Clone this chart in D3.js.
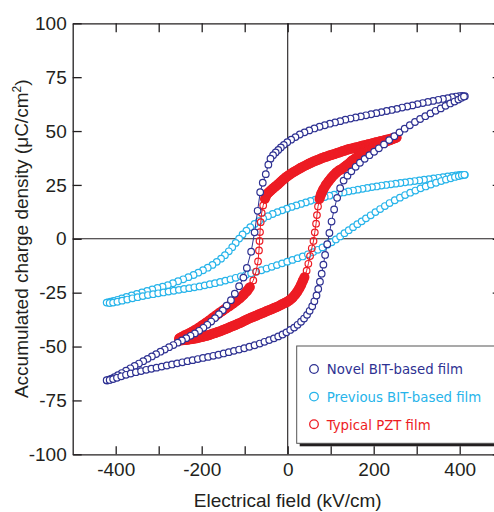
<!DOCTYPE html>
<html>
<head>
<meta charset="utf-8">
<script src="https://cdn.jsdelivr.net/npm/d3@7"></script>
<style>
body { margin: 0; background: #fff; }
svg { display: block; }
</style>
</head>
<body>
<script>
// P-E hysteresis loops, [E (kV/cm), P (uC/cm2)]
var novelUpper = [[412,66.2],[406,66.3],[399,66.2],[391,66.0],[382,65.7],[372,65.3],[361,64.9],[350,64.5],[338,64.0],[326,63.5],[314,63.0],[302,62.5],[290,61.9],[278,61.4],[266,60.9],[254,60.3],[242,59.8],[230,59.3],[218,58.8],[206,58.3],[194,57.8],[182,57.3],[170,56.8],[158,56.3],[146,55.8],[134,55.3],[122,54.6],[110,54.0],[98,53.4],[86,52.7],[74,52.0],[62,51.2],[50,50.3],[39,49.4],[28,48.4],[18,47.2],[8,46.0],[-1,44.8],[-9,43.6],[-16,42.4],[-22,41.2],[-28,40.1],[-34,38.8],[-40,37.2],[-45,34.4],[-51,30.0],[-58,26.0],[-64,21.6],[-70,13.0],[-77,3.0],[-85,-6.0],[-95,-13.5],[-103,-18.0],[-113,-22.0],[-123,-25.5],[-132,-28.5],[-142,-31.0],[-151,-33.2],[-160,-35.0],[-169,-36.8],[-178,-38.4],[-187,-39.9],[-196,-41.3],[-206,-42.7],[-216,-43.9],[-226,-45.0],[-236,-46.1],[-246,-47.2],[-256,-48.2],[-266,-49.3],[-276,-50.3],[-286,-51.4],[-296,-52.4],[-306,-53.5],[-316,-54.6],[-326,-55.7],[-336,-56.8],[-346,-57.9],[-356,-59.0],[-366,-60.1],[-376,-61.2],[-386,-62.3],[-395,-63.3],[-403,-64.2],[-410,-64.9],[-416,-65.4],[-420,-65.8]];
var novelLower = [[-421,-65.6],[-414,-65.5],[-406,-65.1],[-397,-64.5],[-387,-63.8],[-376,-63.1],[-365,-62.5],[-353,-61.9],[-341,-61.4],[-329,-60.8],[-317,-60.3],[-305,-59.8],[-293,-59.3],[-281,-58.8],[-269,-58.3],[-257,-57.8],[-245,-57.3],[-233,-56.8],[-221,-56.3],[-209,-55.8],[-197,-55.3],[-185,-54.8],[-173,-54.3],[-161,-53.8],[-149,-53.2],[-137,-52.6],[-125,-52.0],[-113,-51.4],[-101,-50.8],[-89,-50.1],[-77,-49.4],[-65,-48.6],[-54,-47.8],[-43,-47.0],[-32,-46.2],[-22,-45.3],[-12,-44.4],[-3,-43.4],[6,-42.3],[15,-41.2],[23,-39.9],[31,-38.5],[38,-37.0],[45,-35.3],[51,-33.4],[57,-31.3],[62,-29.0],[67,-26.3],[71,-23.3],[75,-19.9],[79,-16.2],[83,-12.0],[87,-7.5],[92,-2.5],[97,2.7],[102,8.0],[108,13.6],[115,19.0],[122,23.5],[130,27.0],[139,29.3],[148,31.3],[158,33.4],[168,35.3],[179,37.1],[190,38.8],[201,40.4],[212,42.0],[224,43.8],[236,45.8],[248,47.6],[260,49.4],[272,51.1],[284,52.7],[296,54.2],[308,55.6],[320,56.9],[332,58.2],[344,59.4],[356,60.5],[367,61.7],[378,62.8],[388,63.7],[397,64.6],[404,65.4],[410,66.0]];

var previousUpper = [[412,29.7],[406,29.7],[399,29.6],[391,29.4],[382,29.2],[372,28.9],[361,28.6],[350,28.3],[339,28.0],[328,27.7],[317,27.4],[306,27.1],[295,26.8],[284,26.5],[273,26.2],[262,25.9],[251,25.6],[240,25.3],[229,25.0],[218,24.7],[207,24.3],[196,24.0],[185,23.6],[174,23.2],[163,22.8],[152,22.4],[141,22.0],[130,21.5],[119,21.0],[108,20.5],[97,20.0],[86,19.4],[75,18.8],[64,18.2],[53,17.6],[42,16.9],[31,16.2],[20,15.5],[9,14.8],[-2,14.0],[-13,13.2],[-24,12.4],[-35,11.5],[-46,10.5],[-57,9.4],[-67,8.2],[-77,6.9],[-87,5.4],[-96,3.8],[-105,2.0],[-113,0.1],[-121,-1.9],[-129,-3.9],[-137,-5.8],[-146,-7.6],[-155,-9.2],[-165,-10.7],[-175,-12.1],[-186,-13.4],[-197,-14.6],[-208,-15.7],[-219,-16.8],[-231,-17.8],[-243,-18.8],[-255,-19.7],[-267,-20.6],[-279,-21.5],[-291,-22.2],[-303,-22.8],[-315,-23.5],[-327,-24.2],[-339,-24.9],[-351,-25.6],[-363,-26.3],[-375,-27.0],[-386,-27.7],[-396,-28.3],[-405,-28.8],[-412,-29.2],[-418,-29.5]];
var previousLower = [[-421,-29.6],[-414,-29.8],[-406,-29.6],[-396,-29.2],[-385,-28.7],[-373,-28.2],[-361,-27.6],[-349,-27.1],[-337,-26.6],[-325,-26.1],[-313,-25.7],[-301,-25.3],[-289,-24.9],[-277,-24.5],[-265,-24.1],[-253,-23.7],[-241,-23.3],[-229,-22.9],[-217,-22.5],[-205,-22.1],[-193,-21.6],[-181,-21.1],[-169,-20.6],[-157,-20.0],[-145,-19.4],[-133,-18.8],[-121,-18.1],[-109,-17.4],[-97,-16.7],[-85,-16.0],[-73,-15.3],[-61,-14.6],[-49,-13.8],[-37,-13.0],[-25,-12.2],[-13,-11.4],[-1,-10.6],[11,-9.8],[23,-9.0],[35,-8.2],[47,-7.2],[59,-6.2],[70,-5.1],[81,-4.0],[92,-2.8],[102,-1.6],[112,-0.3],[122,1.1],[132,2.6],[142,4.0],[152,5.4],[162,6.8],[172,8.1],[182,9.5],[193,10.9],[204,12.4],[215,13.8],[226,15.2],[237,16.6],[249,17.9],[261,19.1],[273,20.3],[285,21.4],[297,22.4],[309,23.4],[321,24.3],[333,25.2],[345,26.0],[357,26.8],[368,27.5],[379,28.1],[389,28.7],[398,29.1],[405,29.5],[411,29.7]];

var pztUpper = [[253,47.0],[247,46.8],[241,46.5],[235,46.2],[229,45.9],[223,45.6],[217,45.3],[211,45.0],[205,44.7],[199,44.4],[193,44.1],[187,43.8],[181,43.5],[175,43.2],[169,42.9],[163,42.6],[157,42.3],[151,42.0],[145,41.7],[139,41.4],[133,41.0],[127,40.6],[121,40.2],[115,39.8],[109,39.4],[103,39.0],[97,38.6],[91,38.2],[85,37.8],[79,37.4],[73,36.9],[67,36.4],[61,35.9],[55,35.4],[49,34.8],[43,34.2],[37,33.6],[31,33.0],[25,32.3],[19,31.6],[13,30.9],[7,30.1],[1,29.3],[-5,28.4],[-11,27.4],[-17,26.3],[-23,25.2],[-29,24.2],[-35,23.2],[-40,22.3],[-45,21.4],[-49,20.6],[-53,18.5],[-57,15.5],[-60.5,12.0],[-62.8,7.7],[-64.4,3.1],[-65.5,-1.0],[-66.8,-5.4],[-69,-10.5],[-73.5,-15.2],[-80,-19.3],[-88,-22.4],[-95,-24.3],[-103,-26.0],[-111,-27.5],[-119,-28.8],[-127,-30.0],[-135,-31.1],[-143,-32.2],[-151,-33.3],[-159,-34.4],[-167,-35.6],[-175,-36.8],[-183,-38.0],[-191,-39.1],[-199,-40.2],[-207,-41.3],[-215,-42.3],[-223,-43.2],[-231,-44.0],[-239,-44.8],[-246,-45.5],[-252,-46.2]];
var pztLower = [[-253,-47.2],[-247,-47.1],[-241,-47.0],[-235,-46.9],[-229,-46.7],[-223,-46.5],[-217,-46.3],[-211,-46.1],[-205,-45.8],[-199,-45.5],[-193,-45.2],[-187,-44.9],[-181,-44.5],[-175,-44.1],[-169,-43.7],[-163,-43.3],[-157,-42.9],[-151,-42.4],[-145,-41.9],[-139,-41.4],[-133,-40.9],[-127,-40.4],[-121,-39.9],[-115,-39.4],[-109,-38.9],[-103,-38.3],[-97,-37.7],[-91,-37.1],[-85,-36.6],[-79,-36.1],[-73,-35.6],[-67,-35.1],[-61,-34.6],[-55,-34.1],[-49,-33.6],[-43,-33.1],[-37,-32.6],[-31,-32.1],[-25,-31.6],[-19,-31.0],[-13,-30.4],[-7,-29.8],[-1,-29.2],[5,-28.4],[11,-27.4],[17,-26.0],[22,-24.6],[27,-23.0],[31,-21.4],[35,-19.6],[39,-17.8],[44,-14.8],[48,-11.6],[52,-8.0],[56,-4.4],[60,-1.0],[63,3.0],[66,7.0],[68,11.0],[70.5,15.0],[74,18.5],[78,20.9],[83,23.0],[89,25.0],[95,26.7],[101,28.2],[107,29.5],[113,30.7],[119,31.7],[125,32.3],[131,33.2],[137,34.1],[143,35.0],[149,36.2],[155,37.0],[161,37.8],[167,38.6],[173,39.4],[179,40.1],[185,40.8],[191,41.5],[197,42.2],[203,42.8],[209,43.4],[215,44.0],[221,44.5],[227,45.0],[233,45.5],[239,45.9],[245,46.4],[250,46.8]];

var seriesNames = ['Novel BIT-based film', 'Previous BIT-based film', 'Typical PZT film'];
var xTickValues = [-400, -300, -200, -100, 0, 100, 200, 300, 400];
var xTickLabels = [-400, -200, 0, 200, 400];
var yTickValues = [-100, -75, -50, -25, 0, 25, 50, 75, 100];

var colors = ['#2e3192', '#27b4ea', '#ed1c24'];
var ink = '#231f20';

var width = 494, height = 512;
var svg = d3.select('body').append('svg')
  .attr('width', width)
  .attr('height', height);

var x = d3.scaleLinear().domain([-500, 500]).range([72.7, 502.7]);
var y = d3.scaleLinear().domain([-100, 100]).range([454.3, 23.3]);

// zero lines
svg.append('line')
  .attr('x1', x(-500)).attr('x2', x(500))
  .attr('y1', y(0)).attr('y2', y(0))
  .attr('stroke', ink).attr('stroke-width', 1.1);
svg.append('line')
  .attr('x1', x(0)).attr('x2', x(0))
  .attr('y1', y(100)).attr('y2', y(-100))
  .attr('stroke', ink).attr('stroke-width', 1.1);

// axes, ticks pointing inward
svg.append('g')
  .attr('transform', 'translate(' + x(-500) + ',0)')
  .call(d3.axisLeft(y).tickValues(yTickValues).tickSize(-9).tickSizeOuter(0)
    .tickPadding(6).tickFormat(function(d) { return String(d); }));
svg.append('g')
  .attr('transform', 'translate(0,' + y(-100) + ')')
  .call(d3.axisBottom(x).tickValues(xTickValues).tickSize(-8).tickSizeOuter(0)
    .tickPadding(8).tickFormat(function(d) { return xTickLabels.indexOf(d) >= 0 ? String(d) : ''; }));
svg.append('g')
  .attr('transform', 'translate(0,' + y(100) + ')')
  .call(d3.axisTop(x).tickValues(xTickValues).tickSize(-9).tickSizeOuter(0).tickFormat(''));
svg.append('g')
  .attr('transform', 'translate(' + x(500) + ',0)')
  .call(d3.axisRight(y).tickValues(yTickValues).tickSize(-10).tickSizeOuter(0).tickFormat(''));

svg.selectAll('.domain, .tick line')
  .attr('stroke', ink)
  .attr('stroke-width', 1.3);
svg.selectAll('.tick text')
  .attr('fill', ink)
  .style('font-family', '"Liberation Sans", Arial, sans-serif')
  .style('font-size', '19px');

// loops
var line = d3.line()
  .x(function(d) { return x(d[0]); })
  .y(function(d) { return y(d[1]); });

var loops = [
  { pts: previousUpper.concat(previousLower), color: colors[1], fill: '#fff', band: 0 },
  { pts: pztUpper.concat(pztLower), color: colors[2], fill: 'none', band: 10 },
  { pts: novelUpper.concat(novelLower), color: colors[0], fill: '#fff', band: 0 }
];

loops.forEach(function(s) {
  var g = svg.append('g');
  var closed = s.pts.concat([s.pts[0]]);
  g.append('path')
    .attr('d', line(closed))
    .attr('fill', 'none')
    .attr('stroke', s.color)
    .attr('stroke-width', 1);

  // where the markers crowd together they merge into a solid band
  if (s.band) {
    var pairs = d3.pairs(closed).filter(function(p) {
      var dx = x(p[1][0]) - x(p[0][0]), dy = y(p[1][1]) - y(p[0][1]);
      return Math.sqrt(dx * dx + dy * dy) < 6;
    });
    g.selectAll('line.band')
      .data(pairs)
      .enter()
      .append('line')
      .attr('class', 'band')
      .attr('x1', function(p) { return x(p[0][0]); })
      .attr('y1', function(p) { return y(p[0][1]); })
      .attr('x2', function(p) { return x(p[1][0]); })
      .attr('y2', function(p) { return y(p[1][1]); })
      .attr('stroke', s.color)
      .attr('stroke-width', s.band)
      .attr('stroke-linecap', 'round');
  }

  g.selectAll('circle')
    .data(s.pts)
    .enter()
    .append('circle')
    .attr('cx', function(d) { return x(d[0]); })
    .attr('cy', function(d) { return y(d[1]); })
    .attr('r', 3.3)
    .attr('fill', s.fill)
    .attr('stroke', s.color)
    .attr('stroke-width', 1.2);
});

// legend
var lg = svg.append('g').attr('transform', 'translate(296.7,346)');
lg.append('rect')
  .attr('x', 3).attr('y', 3)
  .attr('width', 220).attr('height', 97.3)
  .attr('fill', ink);
lg.append('rect')
  .attr('width', 220).attr('height', 97.3)
  .attr('fill', '#fff')
  .attr('stroke', '#555')
  .attr('stroke-width', 1);
seriesNames.forEach(function(name, i) {
  lg.append('circle')
    .attr('cx', 17.3).attr('cy', 23 + i * 27.6)
    .attr('r', 4.3)
    .attr('fill', 'none')
    .attr('stroke', colors[i])
    .attr('stroke-width', 1.3);
  lg.append('text')
    .attr('x', 30).attr('y', 28.3 + i * 27.6)
    .attr('fill', colors[i])
    .style('font-family', '"DejaVu Sans", Verdana, sans-serif')
    .style('font-size', '13.3px')
    .text(name);
});

// axis titles
svg.append('text')
  .attr('x', x(0)).attr('y', 507)
  .attr('text-anchor', 'middle')
  .attr('fill', ink)
  .style('font-family', '"Liberation Sans", Arial, sans-serif')
  .style('font-size', '19px')
  .text('Electrical field (kV/cm)');

var yt = svg.append('text')
  .attr('transform', 'translate(27.5,' + y(0) + ') rotate(-90)')
  .attr('text-anchor', 'middle')
  .attr('fill', ink)
  .style('font-family', '"Liberation Sans", Arial, sans-serif')
  .style('font-size', '19px');
yt.append('tspan').text('Accumulated charge density (\u03bcC/cm');
yt.append('tspan').attr('dy', -7).style('font-size', '12px').text('2');
yt.append('tspan').attr('dy', 7).text(')');
</script>
</body>
</html>
